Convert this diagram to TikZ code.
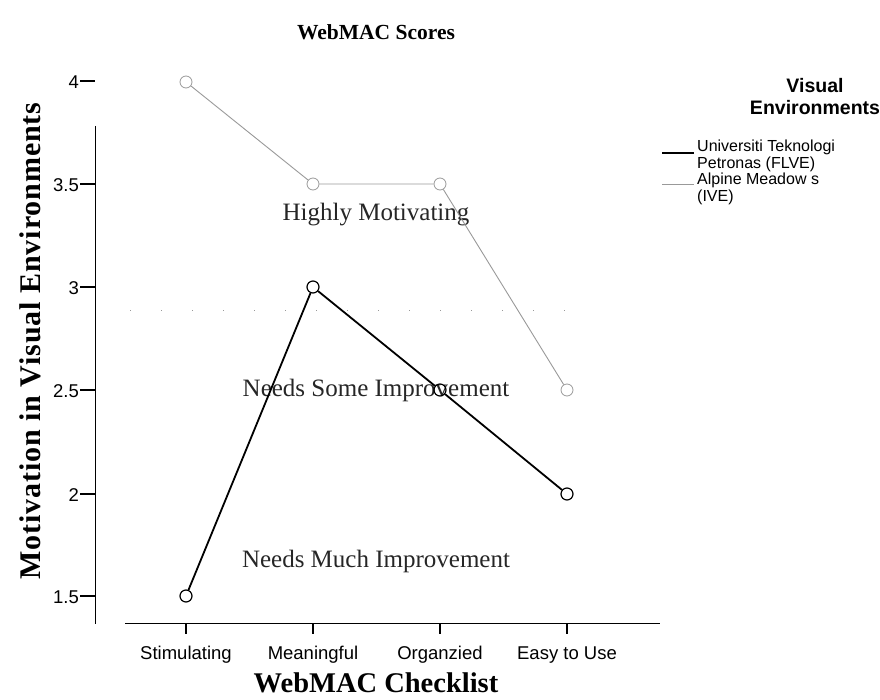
\documentclass[tikz,border=0pt]{standalone}
\usepackage{fontspec}
\setmainfont{Liberation Serif}
\newfontfamily\arial{Liberation Sans}
\newfontfamily\serifwide[LetterSpace=3]{Liberation Serif}
\begin{document}
\begin{tikzpicture}[x=1pt,y=-1pt,
  axis/.style={line width=1pt,black},
  tick/.style={line width=1.3pt,black},
  ticklbl/.style={font=\arial\fontsize{18.5}{20}\selectfont,inner sep=0pt},
  zone/.style={font=\fontsize{25}{28}\selectfont,text=black!85,inner sep=1pt},
  legtxt/.style={font=\arial\fontsize{16}{16.5}\selectfont,align=left,anchor=north west,inner sep=0pt},
  mkb/.style={circle,draw=black,line width=1.2pt,minimum size=12pt,inner sep=0pt},
  mkg/.style={circle,draw=black!40,line width=0.8pt,minimum size=12pt,inner sep=0pt},
  lineb/.style={line width=1.8pt,black},
  lineg/.style={line width=0.9pt,black!40}
]
\useasboundingbox (0,0) rectangle (880,700);

% title
\node[font=\bfseries\fontsize{21.5}{24}\selectfont] (title) at (376,32) {WebMAC Scores};

% axes
\coordinate (ytop) at (95,126);
\coordinate (ybot) at (95,624);
\coordinate (xl) at (125,623);
\coordinate (xr) at (660,623);
\draw[axis] (ytop) -- (ybot);
\draw[axis] (xl) -- (xr);

% faint reference line
\coordinate (rl) at (130,310);
\coordinate (rr) at (575,310);
\draw[black!40,line width=0.6pt,dash pattern=on 1pt off 30pt] (rl) -- (rr);

% y ticks
\foreach \i/\v/\y in {1/4/81,2/3.5/184,3/3/287,4/2.5/390,5/2/494,6/1.5/596}{
  \coordinate (yt\i) at (95,\y);
  \coordinate (ys\i) at (80,\y);
  \draw[tick] (ys\i) -- (yt\i);
  \node[ticklbl,anchor=east] (yl\i) at (79,\y+1) {\v};
}

% x ticks
\foreach \n/\x/\t in {1/186/Stimulating,2/313/Meaningful,3/440/Organzied,4/567/Easy to Use}{
  \coordinate (xt\n) at (\x,623);
  \coordinate (xs\n) at (\x,634);
  \draw[tick] (xt\n) -- (xs\n);
  \node[ticklbl] (xl\n) at (\x,655) {\t};
}

% axis titles
\node[font=\bfseries\fontsize{28.5}{32}\selectfont,inner sep=0pt] (xtitle) at (376,683) {WebMAC Checklist};
\node[font=\serifwide\bfseries\fontsize{30}{34}\selectfont,inner sep=0pt,rotate=90] (ytitle) at (30,341) {Motivation in Visual Environments};

% zone labels
\node[zone] (z1) at (376,215) {Highly Motivating};
\node[zone] (z2) at (376,390) {Needs Some Improvement};
\node[zone] (z3) at (376,561) {Needs Much Improvement};

% gray series (Alpine Meadows)
\node[mkg] (g1) at (186,82) {};
\node[mkg] (g2) at (313,184) {};
\node[mkg] (g3) at (440,184) {};
\node[mkg] (g4) at (567,390) {};
\draw[lineg] (g1) -- (g2) -- (g3) -- (g4);

% black series (UTP)
\node[mkb] (b1) at (186,596) {};
\node[mkb] (b2) at (313,287) {};
\node[mkb] (b3) at (440,390) {};
\node[mkb] (b4) at (567,494) {};
\draw[lineb] (b1) -- (b2) -- (b3) -- (b4);

% legend
\node[font=\arial\bfseries\fontsize{19.5}{22}\selectfont,align=center] (legt) at (815,97) {Visual\\Environments};
\coordinate (lb1) at (662,153);
\coordinate (lb2) at (694,153);
\draw[line width=1.5pt,black] (lb1) -- (lb2);
\node[legtxt] (leg1) at (697,140) {Universiti Teknologi\\Petronas (FLVE)};
\coordinate (lg1) at (662,184);
\coordinate (lg2) at (694,184);
\draw[line width=0.9pt,black!40] (lg1) -- (lg2);
\node[legtxt] (leg2) at (697,173) {Alpine Meadow s\\(IVE)};
\end{tikzpicture}
\end{document}
